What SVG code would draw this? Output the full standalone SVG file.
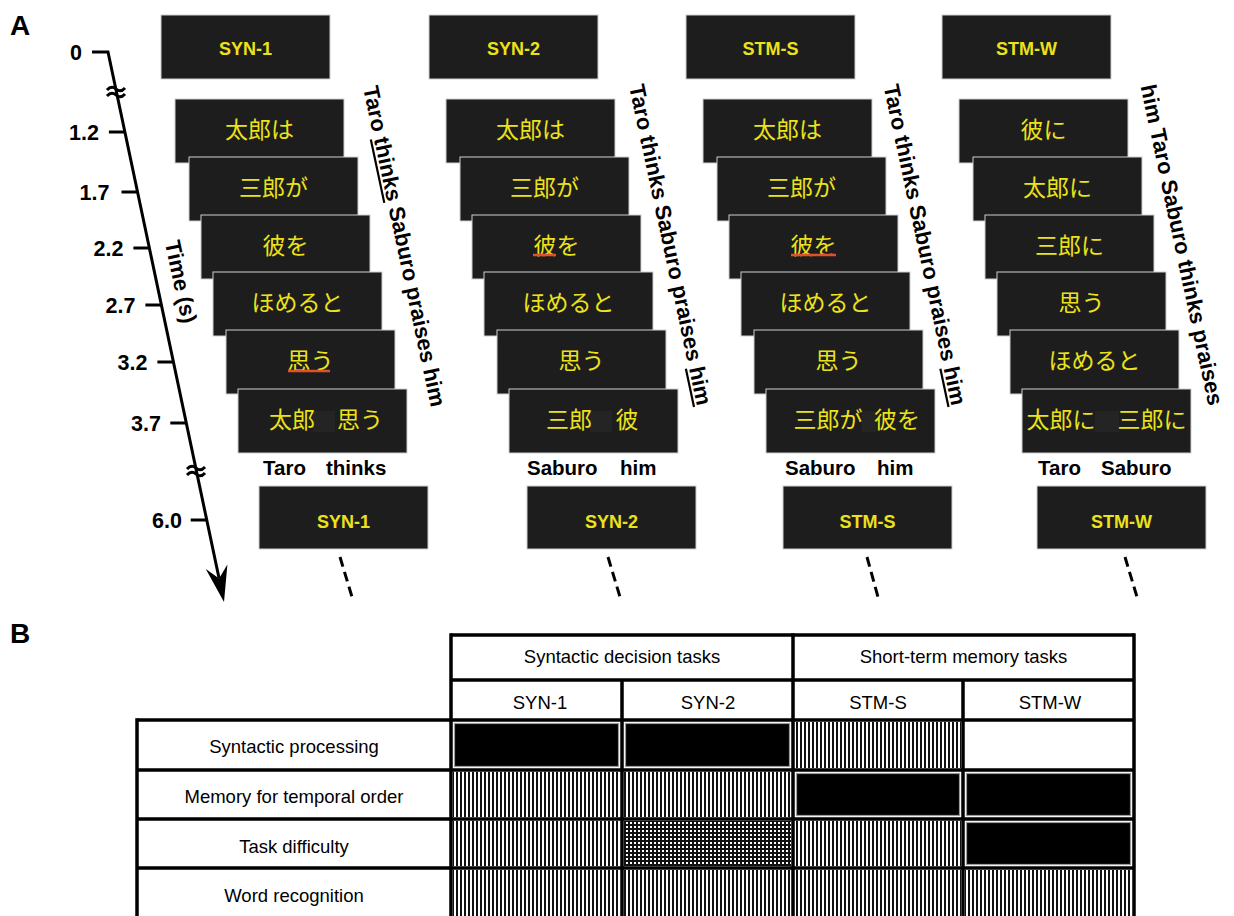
<svg xmlns="http://www.w3.org/2000/svg" width="1234" height="916" viewBox="0 0 1234 916">
<style>
.bx{fill:#1d1d1d;stroke:#cfcfcf;stroke-width:1}
.hd{font-family:"Liberation Sans",Arial,sans-serif;font-weight:bold;font-size:18px;fill:#ece21b;text-anchor:middle}
.jp{font-family:"Noto Sans CJK JP",sans-serif;font-size:23px;fill:#ece21b;text-anchor:middle;dominant-baseline:central}
.en{font-family:"Liberation Sans",Arial,sans-serif;font-weight:bold;font-size:20.5px;fill:#000}
.sen{font-family:"Liberation Sans",Arial,sans-serif;font-weight:bold;font-size:22px;fill:#000;text-anchor:middle}
.tk{font-family:"Liberation Sans",Arial,sans-serif;font-weight:bold;font-size:21.5px;fill:#000;text-anchor:end}
.pl{font-family:"Liberation Sans",Arial,sans-serif;font-weight:bold;font-size:28px;fill:#000}
.ax{stroke:#000;stroke-width:3;fill:none}
.dash{stroke:#000;stroke-width:3;stroke-dasharray:10 5.5;fill:none}
.ul{stroke:#e0502a;stroke-width:2.5}
.gap{fill:#242424}
.tb{font-family:"Liberation Sans",Arial,sans-serif;font-size:18.5px;fill:#000;text-anchor:middle}
.gl{stroke:#000;stroke-width:3.5;fill:none}
.blk{fill:#000;stroke:#9a9a9a;stroke-width:1.2}
</style>
<defs>
<pattern id="vs" width="4" height="4" patternUnits="userSpaceOnUse"><rect width="4" height="4" fill="#fff"/><rect width="2" height="4" fill="#111"/></pattern>
<pattern id="xh" width="4" height="4" patternUnits="userSpaceOnUse"><rect width="4" height="4" fill="#fff"/><rect width="2" height="4" fill="#111"/><rect width="4" height="2" fill="#111"/></pattern>
</defs>
<rect width="1234" height="916" fill="#fff"/>

<text class="pl" x="10" y="35">A</text>
<text class="pl" x="10" y="643">B</text>

<!-- time axis -->
<g id="time-axis">
<path class="ax" d="M92 52 L108 52 L219 578"/>
<path d="M224 602 L205.8 569.1 L219.1 578.5 L227.4 564.5 Z" fill="#000"/>
<path class="ax" stroke-width="1.8" d="M107 90 q4.5 -5 9 -1 t9 -1 M107 96 q4.5 -5 9 -1 t9 -1"/>
<path class="ax" stroke-width="1.8" d="M187 469 q4.5 -5 9 -1 t9 -1 M187 475 q4.5 -5 9 -1 t9 -1"/>
<g class="ax">
<line x1="108.9" y1="132" x2="124.9" y2="132"/>
<line x1="121.5" y1="192" x2="137.5" y2="192"/>
<line x1="133.4" y1="248" x2="149.4" y2="248"/>
<line x1="145.4" y1="305" x2="161.4" y2="305"/>
<line x1="157.4" y1="362" x2="173.4" y2="362"/>
<line x1="170.3" y1="423" x2="186.3" y2="423"/>
<line x1="190.7" y1="520" x2="206.7" y2="520"/>
</g>
<text class="tk" x="82" y="60">0</text>
<text class="tk" x="98.9" y="140">1.2</text>
<text class="tk" x="109.5" y="200">1.7</text>
<text class="tk" x="123.4" y="256">2.2</text>
<text class="tk" x="135.4" y="313">2.7</text>
<text class="tk" x="147.4" y="370">3.2</text>
<text class="tk" x="161" y="431">3.7</text>
<text class="tk" x="182" y="528">6.0</text>
<text class="sen" font-size="21" transform="translate(180,282) rotate(78)" dy="0.3em">Time (s)</text>
</g>

<!-- header boxes -->
<g id="hdr-syn1"><rect class="bx" x="161" y="15" width="169" height="64"/><text class="hd" x="245.5" y="55">SYN-1</text></g>
<g id="hdr-syn2"><rect class="bx" x="429" y="15" width="169" height="64"/><text class="hd" x="513.5" y="55">SYN-2</text></g>
<g id="hdr-stms"><rect class="bx" x="686" y="15" width="169" height="64"/><text class="hd" x="770.5" y="55">STM-S</text></g>
<g id="hdr-stmw"><rect class="bx" x="942" y="15" width="169" height="64"/><text class="hd" x="1026.5" y="55">STM-W</text></g>

<!-- column 1 stack -->
<g id="c1-w1"><rect class="bx" x="175" y="99" width="169" height="64"/><text class="jp" x="259.5" y="128">太郎は</text></g>
<g id="c1-w2"><rect class="bx" x="189" y="157" width="169" height="64"/><text class="jp" x="273.5" y="186">三郎が</text></g>
<g id="c1-w3"><rect class="bx" x="201" y="215" width="169" height="64"/><text class="jp" x="285.5" y="244">彼を</text></g>
<g id="c1-w4"><rect class="bx" x="213" y="272" width="169" height="64"/><text class="jp" x="297.5" y="301">ほめると</text></g>
<g id="c1-w5"><rect class="bx" x="226" y="330" width="169" height="64"/><text class="jp" x="310.5" y="359">思う</text><line class="ul" x1="288" y1="371" x2="330" y2="371"/></g>
<g id="c1-w6"><rect class="bx" x="238" y="389" width="169" height="64"/><rect class="gap" x="313" y="411" width="22" height="21"/><text class="jp" x="292" y="418">太郎</text><text class="jp" x="360" y="418">思う</text></g>
<text class="en" x="263" y="475">Taro</text><text class="en" x="326" y="475">thinks</text>
<text class="sen" transform="translate(403.5,246.5) rotate(78)" dy="0.3em">Taro <tspan text-decoration="underline">thinks</tspan> Saburo praises him</text>

<!-- column 2 stack -->
<g id="c2-w1"><rect class="bx" x="446" y="99" width="169" height="64"/><text class="jp" x="530.5" y="128">太郎は</text></g>
<g id="c2-w2"><rect class="bx" x="460" y="157" width="169" height="64"/><text class="jp" x="544.5" y="186">三郎が</text></g>
<g id="c2-w3"><rect class="bx" x="472" y="215" width="169" height="64"/><text class="jp" x="556.5" y="244">彼を</text><line class="ul" x1="533" y1="255" x2="556" y2="255"/></g>
<g id="c2-w4"><rect class="bx" x="484" y="272" width="169" height="64"/><text class="jp" x="568.5" y="301">ほめると</text></g>
<g id="c2-w5"><rect class="bx" x="497" y="330" width="169" height="64"/><text class="jp" x="581.5" y="359">思う</text></g>
<g id="c2-w6"><rect class="bx" x="509" y="389" width="169" height="64"/><rect class="gap" x="590" y="411" width="22" height="21"/><text class="jp" x="569" y="418">三郎</text><text class="jp" x="627" y="418">彼</text></g>
<text class="en" x="527" y="475">Saburo</text><text class="en" x="620" y="475">him</text>
<text class="sen" transform="translate(669.5,245) rotate(78)" dy="0.3em">Taro thinks Saburo praises <tspan text-decoration="underline">him</tspan></text>

<!-- column 3 stack -->
<g id="c3-w1"><rect class="bx" x="703" y="99" width="169" height="64"/><text class="jp" x="787.5" y="128">太郎は</text></g>
<g id="c3-w2"><rect class="bx" x="717" y="157" width="169" height="64"/><text class="jp" x="801.5" y="186">三郎が</text></g>
<g id="c3-w3"><rect class="bx" x="729" y="215" width="169" height="64"/><text class="jp" x="813.5" y="244">彼を</text><line class="ul" x1="791" y1="255" x2="836" y2="255"/></g>
<g id="c3-w4"><rect class="bx" x="741" y="272" width="169" height="64"/><text class="jp" x="825.5" y="301">ほめると</text></g>
<g id="c3-w5"><rect class="bx" x="754" y="330" width="169" height="64"/><text class="jp" x="838.5" y="359">思う</text></g>
<g id="c3-w6"><rect class="bx" x="766" y="389" width="169" height="64"/><rect class="gap" x="862" y="411" width="14" height="21"/><text class="jp" x="828" y="418">三郎が</text><text class="jp" x="897" y="418">彼を</text></g>
<text class="en" x="785" y="475">Saburo</text><text class="en" x="877" y="475">him</text>
<text class="sen" transform="translate(924,245) rotate(78)" dy="0.3em">Taro thinks Saburo praises <tspan text-decoration="underline">him</tspan></text>

<!-- column 4 stack -->
<g id="c4-w1"><rect class="bx" x="959" y="99" width="169" height="64"/><text class="jp" x="1043.5" y="128">彼に</text></g>
<g id="c4-w2"><rect class="bx" x="973" y="157" width="169" height="64"/><text class="jp" x="1057.5" y="186">太郎に</text></g>
<g id="c4-w3"><rect class="bx" x="985" y="215" width="169" height="64"/><text class="jp" x="1069.5" y="244">三郎に</text></g>
<g id="c4-w4"><rect class="bx" x="997" y="272" width="169" height="64"/><text class="jp" x="1081.5" y="301">思う</text></g>
<g id="c4-w5"><rect class="bx" x="1010" y="330" width="169" height="64"/><text class="jp" x="1094.5" y="359">ほめると</text></g>
<g id="c4-w6"><rect class="bx" x="1022" y="389" width="169" height="64"/><rect class="gap" x="1095" y="411" width="24" height="21"/><text class="jp" x="1061" y="418">太郎に</text><text class="jp" x="1152" y="418">三郎に</text></g>
<text class="en" x="1038" y="475">Taro</text><text class="en" x="1101" y="475">Saburo</text>
<text class="sen" transform="translate(1181,245) rotate(78)" dy="0.3em">him Taro Saburo thinks praises</text>

<!-- bottom boxes -->
<g id="end-syn1"><rect class="bx" x="259" y="486" width="169" height="63"/><text class="hd" x="343.5" y="528">SYN-1</text></g>
<g id="end-syn2"><rect class="bx" x="527" y="486" width="169" height="63"/><text class="hd" x="611.5" y="528">SYN-2</text></g>
<g id="end-stms"><rect class="bx" x="783" y="486" width="169" height="63"/><text class="hd" x="867.5" y="528">STM-S</text></g>
<g id="end-stmw"><rect class="bx" x="1037" y="486" width="169" height="63"/><text class="hd" x="1121.5" y="528">STM-W</text></g>

<g id="connectors">
<line class="dash" x1="340" y1="557" x2="352" y2="597"/>
<line class="dash" x1="608" y1="557" x2="620" y2="597"/>
<line class="dash" x1="867" y1="557" x2="878" y2="597"/>
<line class="dash" x1="1125" y1="557" x2="1137" y2="597"/>
</g>

<!-- panel B table -->
<g id="table">
<rect x="451" y="635" width="683" height="283" fill="#fff"/>
<rect x="137" y="720" width="314" height="198" fill="#fff"/>
<!-- row 1 -->
<rect class="blk" x="454.5" y="723.5" width="164" height="43"/>
<rect class="blk" x="625.5" y="723.5" width="164" height="43"/>
<rect fill="url(#vs)" x="795" y="722" width="166" height="46"/>
<!-- row 2 -->
<rect fill="url(#vs)" x="453" y="772" width="167" height="45"/>
<rect fill="url(#vs)" x="624" y="772" width="167" height="45"/>
<rect class="blk" x="796.5" y="773.5" width="163" height="42"/>
<rect class="blk" x="966.5" y="773.5" width="164" height="42"/>
<!-- row 3 -->
<rect fill="url(#vs)" x="453" y="821" width="167" height="45"/>
<rect fill="url(#xh)" x="624" y="821" width="167" height="45"/>
<rect fill="url(#vs)" x="795" y="821" width="166" height="45"/>
<rect class="blk" x="966.5" y="822.5" width="164" height="42"/>
<!-- row 4 -->
<rect fill="url(#vs)" x="453" y="870" width="167" height="48"/>
<rect fill="url(#vs)" x="624" y="870" width="167" height="48"/>
<rect fill="url(#vs)" x="795" y="870" width="166" height="48"/>
<rect fill="url(#vs)" x="965" y="870" width="167" height="48"/>
<!-- grid -->
<path class="gl" d="M451 635 H1134 M451 680 H1134 M137 720 H1134 M137 770 H1134 M137 819 H1134 M137 868 H1134"/>
<path class="gl" d="M137 718.25 V918 M451 633.25 V918 M622 680 V918 M793 633.25 V918 M963 680 V918 M1134 633.25 V918"/>
<text class="tb" x="622" y="663">Syntactic decision tasks</text>
<text class="tb" x="963.5" y="663">Short-term memory tasks</text>
<text class="tb" x="540" y="709">SYN-1</text>
<text class="tb" x="708" y="709">SYN-2</text>
<text class="tb" x="878" y="709">STM-S</text>
<text class="tb" x="1050" y="709">STM-W</text>
<text class="tb" x="294" y="753">Syntactic processing</text>
<text class="tb" x="294" y="803">Memory for temporal order</text>
<text class="tb" x="294" y="853">Task difficulty</text>
<text class="tb" x="294" y="902">Word recognition</text>
</g>
</svg>
